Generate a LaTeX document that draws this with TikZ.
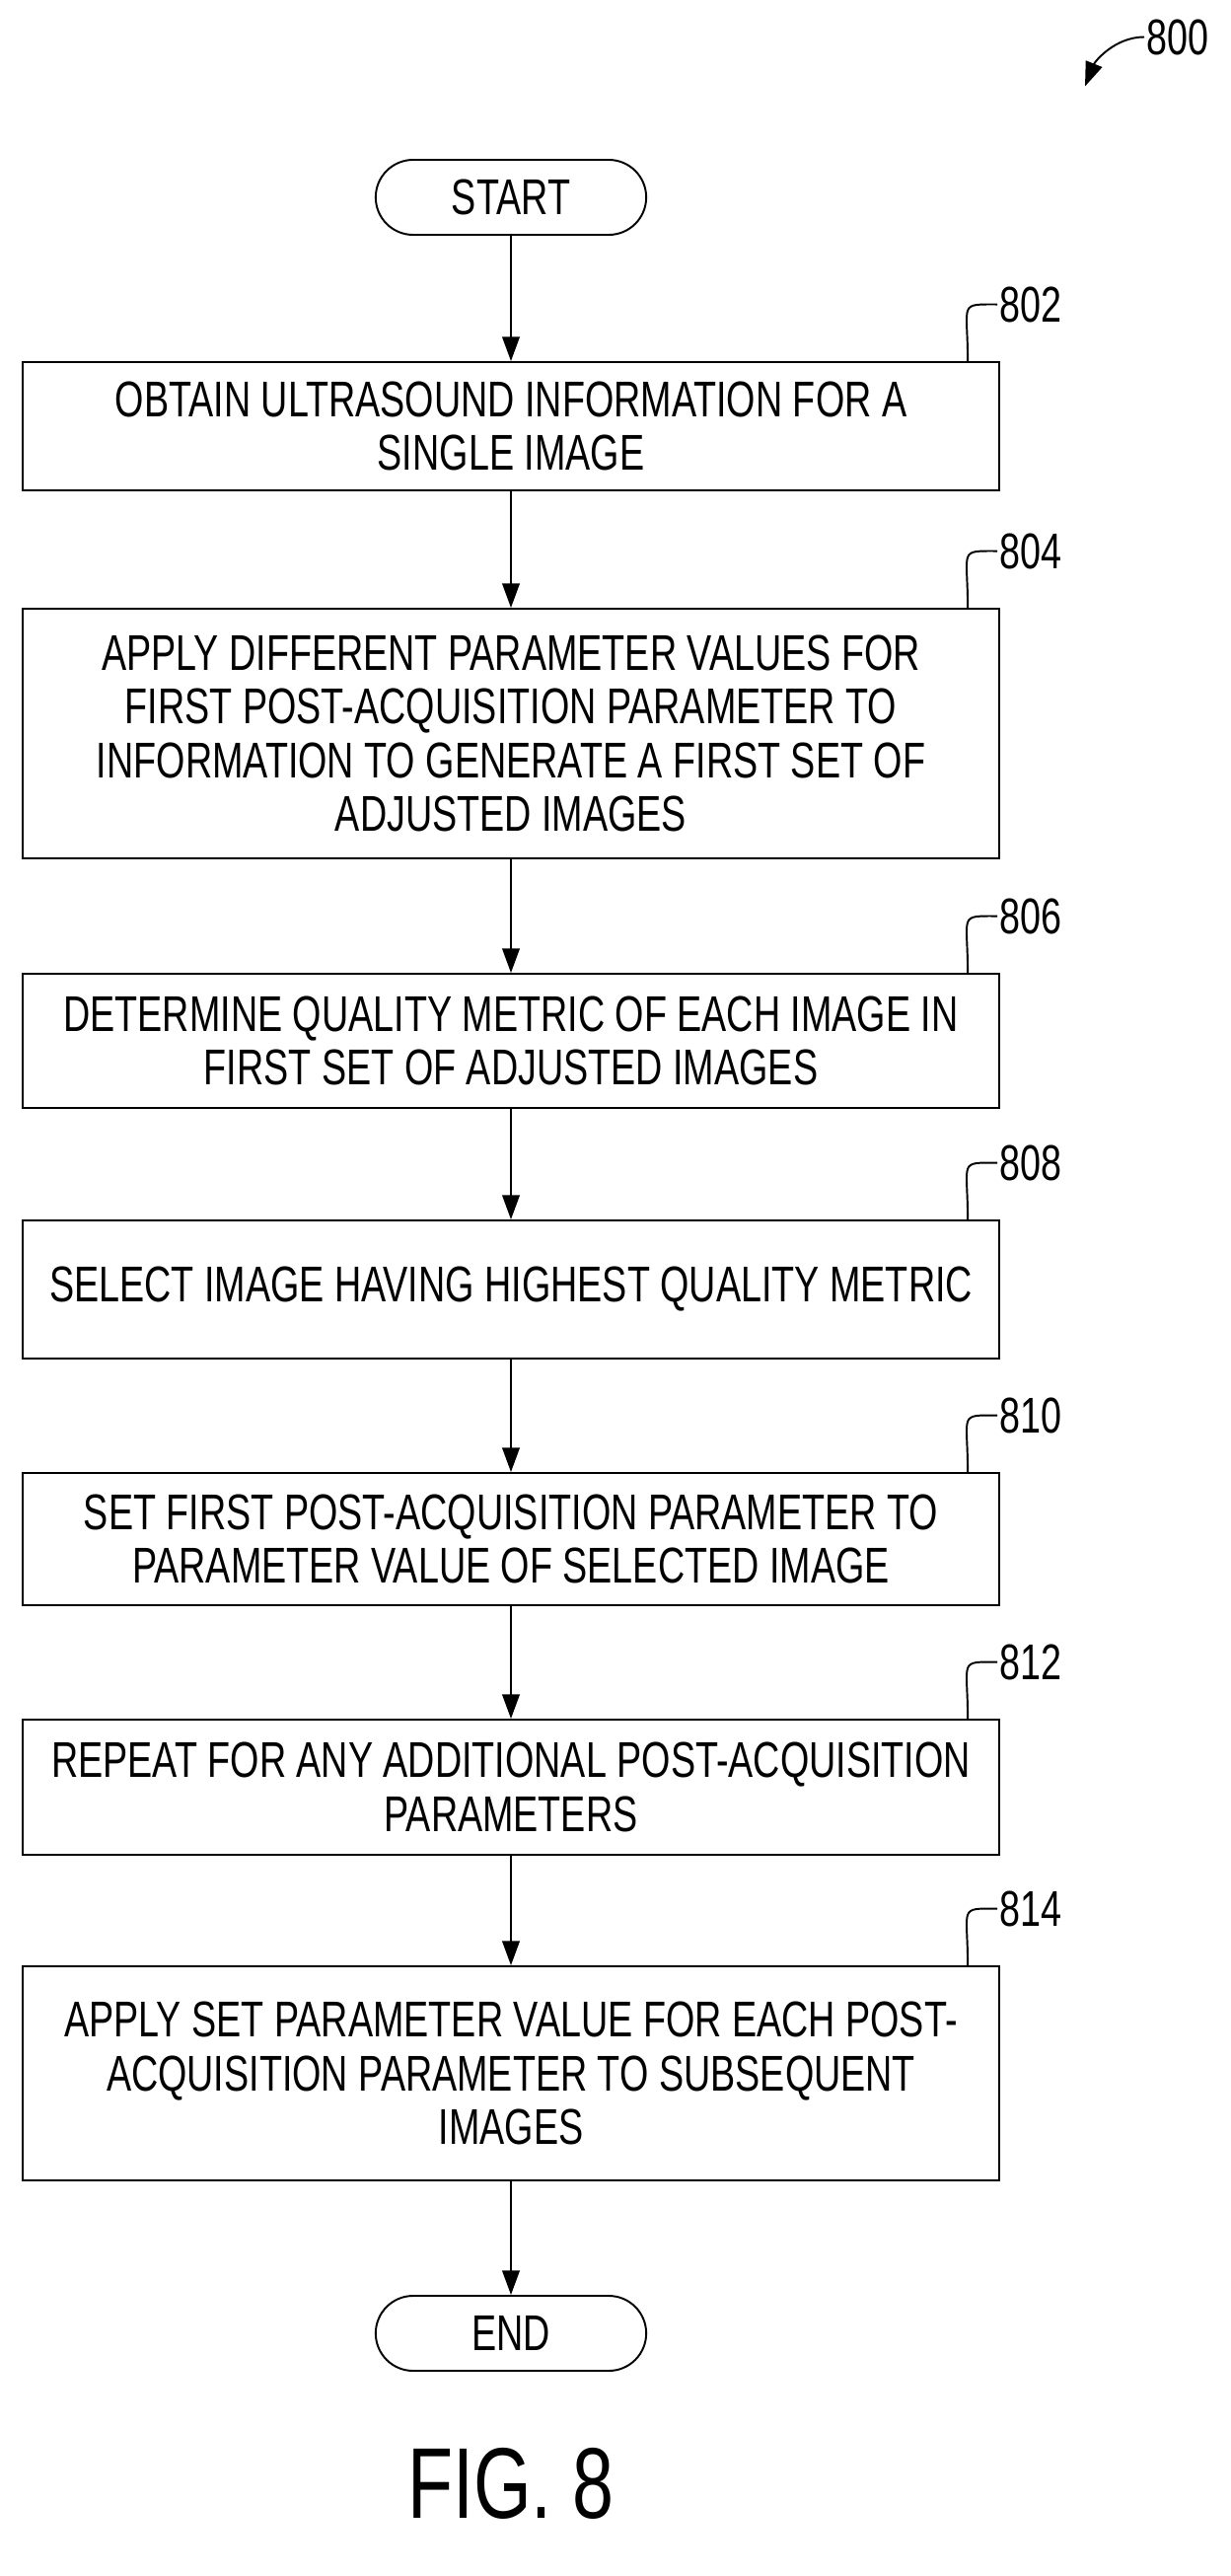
\documentclass[tikz,border=0pt]{standalone}
\usepackage{fontspec}
\setmainfont[FakeStretch=0.74]{Liberation Sans}
\usetikzlibrary{shapes.misc,arrows.meta}
% Syntax: \steplabel{box}{number}
\newcommand\steplabel[2]{%
  \draw ([xshift=-33pt*0.567]#1.north east) .. controls +(0,1.2) and +(-0.8,0) .. ++(0.6,1.15) node[anchor=west,inner sep=1pt] (l#2) {#2};}
\begin{document}
\begin{tikzpicture}[line width=1.1pt,
    stepbox/.style={draw,minimum width=19.8cm,align=center,inner sep=0pt,font=\fontsize{29}{31}\selectfont},
    term/.style={draw,rounded rectangle,minimum width=5.72cm,minimum height=1.52cm,font=\fontsize{29}{31}\selectfont},
    flow/.style={-{Triangle[length=14pt,width=10pt]}}]
  \useasboundingbox (0,0) rectangle (24.94,-52.22);
  \tikzset{every node/.append style={font=\fontsize{29}{31}\selectfont}}
  %flow chart boxes
  \node[term] (start) at (10.36,-4.0) {START};
  \node[stepbox,minimum height=2.6cm] (b802) at (10.36,-8.64) {OBTAIN ULTRASOUND INFORMATION FOR A\\SINGLE IMAGE};
  \node[stepbox,minimum height=5.06cm] (b804) at (10.36,-14.87) {APPLY DIFFERENT PARAMETER VALUES FOR\\FIRST POST-ACQUISITION PARAMETER TO\\INFORMATION TO GENERATE A FIRST SET OF\\ADJUSTED IMAGES};
  \node[stepbox,minimum height=2.72cm] (b806) at (10.36,-21.10) {DETERMINE QUALITY METRIC OF EACH IMAGE IN\\FIRST SET OF ADJUSTED IMAGES};
  \node[stepbox,minimum height=2.8cm] (b808) at (10.36,-26.14) {SELECT IMAGE HAVING HIGHEST QUALITY METRIC};
  \node[stepbox,minimum height=2.68cm] (b810) at (10.36,-31.20) {SET FIRST POST-ACQUISITION PARAMETER TO\\PARAMETER VALUE OF SELECTED IMAGE};
  \node[stepbox,minimum height=2.74cm] (b812) at (10.36,-36.23) {REPEAT FOR ANY ADDITIONAL POST-ACQUISITION\\PARAMETERS};
  \node[stepbox,minimum height=4.34cm] (b814) at (10.36,-42.03) {APPLY SET PARAMETER VALUE FOR EACH POST-\\ACQUISITION PARAMETER TO SUBSEQUENT\\IMAGES};
  \node[term] (end) at (10.36,-47.30) {END};
  \node[font=\fontsize{58}{60}\selectfont] (fig) at (10.36,-50.35) {FIG. 8};

  %connectors
  \draw[flow] (start) -- (b802);
  \draw[flow] (b802) -- (b804);
  \draw[flow] (b804) -- (b806);
  \draw[flow] (b806) -- (b808);
  \draw[flow] (b808) -- (b810);
  \draw[flow] (b810) -- (b812);
  \draw[flow] (b812) -- (b814);
  \draw[flow] (b814) -- (end);

  %reference numbers
  \steplabel{b802}{802}
  \steplabel{b804}{804}
  \steplabel{b806}{806}
  \steplabel{b808}{808}
  \steplabel{b810}{810}
  \steplabel{b812}{812}
  \steplabel{b814}{814}
  \node[anchor=west,inner sep=1pt] (l800) at (23.2,-0.75) {800};
  \draw[flow] (l800.west) .. controls +(-0.6,0) and +(0.2,0.5) .. ++(-1.2,-1.0);
\end{tikzpicture}
\end{document}
